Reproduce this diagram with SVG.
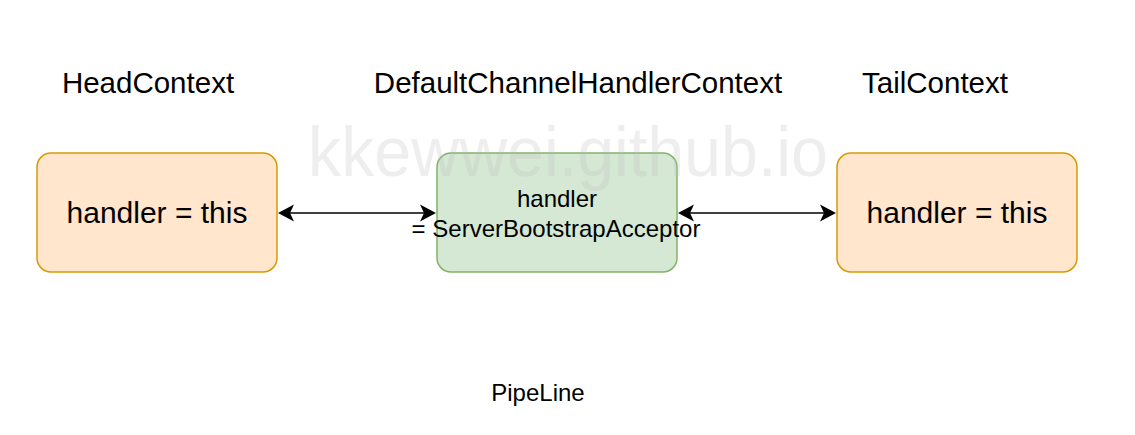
<svg xmlns="http://www.w3.org/2000/svg" width="1135" height="435" viewBox="0 0 1135 435">
  <style>
    .t { font-family: "Liberation Sans", Arial, Helvetica, sans-serif; fill: #000; text-anchor: middle; }
    .title { font-size: 29.5px; }
    .big { font-size: 30px; }
    .small { font-size: 24px; }
    .orange { fill: #ffe6cc; stroke: #d79b00; stroke-width: 1.5; }
    .green { fill: #d5e8d4; stroke: #82b366; stroke-width: 1.5; }
    .edge { stroke: #000; stroke-width: 1.6; fill: none; marker-start: url(#arr); marker-end: url(#arr); }
    .wm { font-family: "Liberation Sans", Arial, Helvetica, sans-serif; font-size: 70px; fill: #bdbdbd; fill-opacity: 0.25; }
  </style>
  <defs>
    <marker id="arr" viewBox="0 0 16 18" refX="4" refY="9" markerWidth="16" markerHeight="18" markerUnits="userSpaceOnUse" orient="auto-start-reverse">
      <path d="M0,0.5 L16,9 L0,17.5 L4,9 Z" fill="#000"/>
    </marker>
  </defs>
  <rect width="1135" height="435" fill="#fff"/>

  <g id="title-head"><text class="t title" x="148" y="93">HeadContext</text></g>
  <g id="title-default"><text class="t title" x="578" y="93">DefaultChannelHandlerContext</text></g>
  <g id="title-tail"><text class="t title" x="935" y="93">TailContext</text></g>

  <g id="head-node">
    <rect class="orange" x="37" y="153" width="240" height="119" rx="14" ry="14"/>
    <text class="t big" x="157" y="223">handler = this</text>
  </g>
  <g id="default-node">
    <rect class="green" x="437" y="153" width="240" height="119" rx="14" ry="14"/>
    <text class="t small" x="557" y="207">handler</text>
    <text class="t small" x="556" y="237">= ServerBootstrapAcceptor</text>
  </g>
  <g id="tail-node">
    <rect class="orange" x="837" y="153" width="240" height="119" rx="14" ry="14"/>
    <text class="t big" x="957" y="223">handler = this</text>
  </g>

  <g id="connectors">
    <line class="edge" x1="290" y1="213" x2="424" y2="213"/>
    <line class="edge" x1="690" y1="213" x2="824" y2="213"/>
  </g>

  <g id="pipeline-label"><text class="t small" x="538" y="401">PipeLine</text></g>

  <text class="wm" x="308" y="176" textLength="520" lengthAdjust="spacingAndGlyphs">kkewwei.github.io</text>
</svg>
